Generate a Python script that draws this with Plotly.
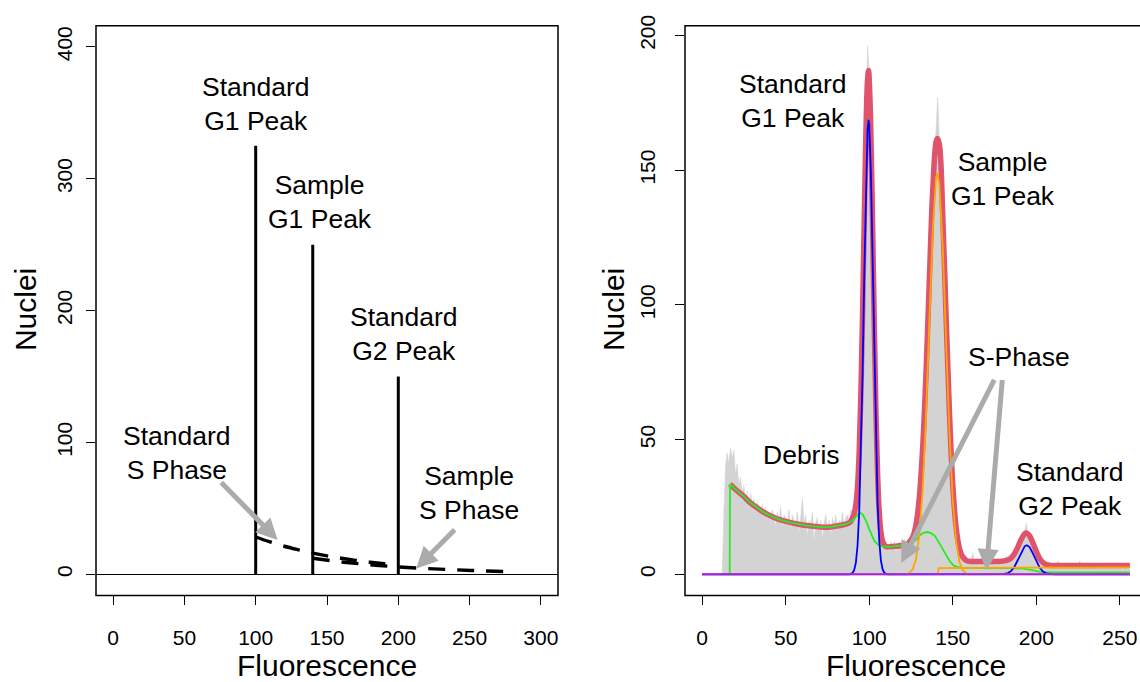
import plotly.graph_objects as go

FONT = "Liberation Sans, Arial, Helvetica, sans-serif"
W, H = 1140, 682

# ---------------- left panel (schematic) ----------------
left_xticks = [0, 50, 100, 150, 200, 250, 300]
left_yticks = [0, 100, 200, 300, 400]
peak_pos = [100, 140, 200]
peak_height = [325, 250, 150]
std_s_x = [100, 110, 120, 130, 140, 150, 160, 170, 180, 190, 200]
std_s_y = [28.3, 24.6, 21.3, 18.6, 16.1, 14.0, 12.2, 10.6, 9.2, 8.0, 7.0]
smp_s_x = [140, 160, 180, 200, 220, 240, 260, 280]
smp_s_y = [12.2, 9.4, 7.3, 5.6, 4.4, 3.4, 2.6, 1.9]
left_labels = ["Standard<br>G1 Peak", "Sample<br>G1 Peak", "Standard<br>G2 Peak",
               "Standard<br>S Phase", "Sample<br>S Phase"]
left_label_x = [100, 145, 204, 44.6, 249.5]
left_label_y = [357, 282, 182, 92, 62]
left_arrow_tail = [(74.8, 70.8), (240.6, 35.0)]
left_arrow_tip = [(115.4, 26.0), (212.6, 4.5)]

# ---------------- right panel (real histogram) ----------------
right_xticks = [0, 50, 100, 150, 200, 250]
right_yticks = [0, 50, 100, 150, 200]
hist_counts = (
    [0] * 13 +
    [22, 40, 45, 41, 47, 43, 46, 37, 41, 33, 36, 30, 33, 27, 31, 25, 30, 26, 28, 23,   # 13-32
     27, 24, 22, 26, 21, 25, 20, 23, 19, 24, 21, 18, 23, 20, 25, 17, 22, 21, 19, 24,    # 33-52
     16, 22, 20, 18, 23, 15, 21, 28, 19, 22, 14, 20, 18, 23, 12, 19, 21, 16, 20, 13,    # 53-72
     19, 22, 17, 20, 14, 21, 18, 22, 16, 20, 19, 23, 17, 21, 22, 19, 24, 23, 26, 30,    # 73-92
     36, 46, 66, 95, 131, 166, 196, 186, 166, 132, 95, 62, 38, 24, 17, 17, 13, 12, 11, 8,  # 93-112
     12, 10, 12, 8, 11, 12, 9, 11, 13, 10, 12, 13, 13, 15, 16, 19, 23, 29, 37, 47,      # 113-132
     60, 75, 92, 110, 127, 143, 156, 165, 177, 161, 150, 135, 116, 97, 79, 61, 46, 34, 24, 17,  # 133-152
     13, 9, 7, 6, 5, 7, 4, 6, 5, 8, 4, 6, 5, 3, 6, 5, 7, 4, 5, 6,                        # 153-172
     4, 7, 5, 3, 6, 5, 4, 6, 5, 7, 6, 7, 6, 8, 8, 10, 11, 13, 14, 15,                    # 173-192
     16, 19, 15, 14, 13, 11, 10, 9, 7, 6, 5, 4, 5, 3, 4, 3, 4, 2, 3, 4,                  # 193-212
     5, 3, 2, 3, 4, 3, 2, 3, 3, 4, 2, 3, 3, 5, 3, 2, 3, 3, 2, 3,                         # 213-232
     4, 2, 3, 3, 2, 3, 2, 3, 3, 2, 3, 2, 3, 2, 3, 2, 2, 3, 2, 2,                         # 233-252
     3, 2, 2, 2]                                                                         # 253-256
)
hist_channels = list(range(len(hist_counts)))

total_x = [16.7, 20, 24.7, 28, 32.7, 37, 42.7, 47, 52.6, 57, 62.6, 67, 72.6, 77, 82.5, 86, 88.5,
           90, 91, 92, 93, 94, 95, 96, 97, 98, 99, 99.6, 100, 101, 102, 103, 104, 105, 106, 107,
           108, 109, 110, 112.5, 116, 120, 123, 124, 126, 128, 130, 132, 134, 136, 138, 140,
           140.8, 142, 144, 146, 148, 150, 152, 154, 156, 158, 160, 170, 180, 183, 185, 187,
           189, 191, 193, 194.3, 196, 198, 200, 202, 204, 206, 209, 220, 256]
total_y = [33.5, 31.5, 29.1, 27.0, 24.8, 23.0, 21.2, 20.2, 19.3, 18.7, 18.1, 17.8, 17.5, 17.6, 18.1,
           18.6, 19.3, 20.9, 22.5, 25.8, 32.5, 45.4, 66.4, 96.1, 130.9, 163.3, 183.5, 187.0, 183.8,
           164.1, 130.7, 93.2, 60.8, 37.4, 23.2, 15.7, 12.3, 10.9, 10.3, 10.2, 10.4, 10.8, 11.2,
           12.0, 13.8, 18.4, 28.7, 46.9, 74.8, 109.6, 142.4, 160.5, 161.8, 159.6, 133.4, 96.1,
           60.4, 33.4, 17.4, 9.6, 6.4, 5.2, 4.8, 4.8, 4.9, 5.3, 6.1, 7.7, 10.2, 13.0, 15.0, 15.3,
           14.3, 11.6, 8.5, 5.9, 4.4, 3.6, 3.3, 3.3, 3.3]

debris_x = [16.5, 16.7, 20, 24.7, 28, 32.7, 37, 42.7, 47, 52.6, 57, 62.6, 67, 72.6, 77, 82.5, 86,
            88.5, 91, 93, 94.5, 96, 97.5, 98.5, 100, 101.5, 103, 105.5, 108, 112.5, 116, 120.4,
            123, 126.4, 128.5, 130.4, 132.5, 134.8, 137, 139.4, 142, 144.4, 146.5, 148.4, 150.5,
            152.4, 156, 162.3, 172.3, 182.3, 188, 192.3, 196, 199, 202.2, 206, 212.2, 232.2, 256]
debris_y = [0, 33.5, 31.5, 29.1, 27.0, 24.8, 23.0, 21.2, 20.2, 19.3, 18.7, 18.1, 17.8, 17.5, 17.6,
            18.1, 18.6, 19.3, 20.5, 22.0, 22.8, 22.3, 20.8, 19.3, 16.8, 14.5, 12.5, 10.9, 10.4,
            10.2, 10.4, 10.8, 11.2, 12.0, 13.0, 14.5, 15.4, 15.7, 15.3, 14.2, 11.5, 9.0, 6.6, 4.7,
            3.3, 2.8, 2.4, 2.3, 2.3, 2.3, 2.3, 2.1, 1.7, 1.2, 0.9, 0.8, 0.8, 0.75, 0.7]

std_x = [0, 88, 90, 91, 92, 93, 94, 95, 96, 97, 98, 99, 99.6, 100, 101, 102, 103, 104, 105, 106,
         107, 108, 109, 111, 178, 180, 183, 185, 187, 189, 191, 193, 194.3, 196, 198, 200, 202,
         204, 206, 209, 212, 256]
std_y = [0, 0, 0.5, 1.5, 4.3, 10.5, 22.8, 43.7, 73.8, 109.6, 143.3, 164.9, 168.7, 167.0, 148.9,
         116.9, 80.7, 49.1, 26.3, 12.4, 5.1, 1.9, 0.6, 0, 0, 0.07, 0.46, 1.27, 2.9, 5.4, 8.3,
         10.4, 10.8, 10.1, 7.7, 4.9, 2.5, 1.06, 0.37, 0.05, 0, 0]

smp_g1_x = [0, 122, 124, 126, 128, 130, 132, 134, 136, 138, 140, 140.8, 142, 144, 146, 148, 150,
            152, 154, 156, 158, 160, 256]
smp_g1_y = [0, 0, 0.5, 1.9, 5.6, 14.5, 31.6, 59.1, 94.0, 127.4, 147.1, 149.0, 144.8, 121.4, 86.7,
            52.9, 27.5, 12.1, 4.6, 1.5, 0.4, 0, 0]

smp_s_phase_x = [141, 141.6, 160, 200, 256]
smp_s_phase_y = [0, 2.3, 2.4, 2.5, 2.6]

aggr_x = [0, 256]
aggr_y = [0, 0]

right_labels = ["Standard<br>G1 Peak", "Sample<br>G1 Peak", "S-Phase", "Debris", "Standard<br>G2 Peak"]
right_label_x = [54.5, 180, 189.8, 59.5, 220]
right_label_y = [175.7, 146.8, 80.6, 44.4, 31.7]
right_arrow_tail = [(175.3, 72.7), (179.7, 72.7)]
right_arrow_tip = [(119.2, 4.2), (170.1, 1.5)]

# ---------------- colours ----------------
C_TOTAL = "#DF536B"
C_DEBRIS = "#22EE22"
C_STD = "#0000FF"
C_SMP = "#FFA500"
C_AGG = "#A020F0"
C_HIST = "#D3D3D3"
C_ARROW = "#ABABAB"

fig = go.Figure()

# left panel
for xp, hp in zip(peak_pos, peak_height):
    fig.add_trace(go.Scatter(x=[xp, xp], y=[0, hp], mode="lines",
                             line=dict(color="black", width=3), xaxis="x", yaxis="y",
                             showlegend=False, hoverinfo="skip"))
fig.add_trace(go.Scatter(x=std_s_x, y=std_s_y, mode="lines", line_shape="spline",
                         line=dict(color="black", width=3.4, dash="17px,12px"),
                         xaxis="x", yaxis="y", showlegend=False))
fig.add_trace(go.Scatter(x=smp_s_x, y=smp_s_y, mode="lines", line_shape="spline",
                         line=dict(color="black", width=3.4, dash="17px,12px"),
                         xaxis="x", yaxis="y", showlegend=False))

# right panel
fig.add_trace(go.Scatter(x=hist_channels, y=hist_counts, mode="lines", fill="tozeroy",
                         fillcolor=C_HIST, line=dict(color=C_HIST, width=0.6),
                         xaxis="x2", yaxis="y2", showlegend=False))
fig.add_trace(go.Scatter(x=total_x, y=total_y, mode="lines", line_shape="spline",
                         line=dict(color=C_TOTAL, width=5.5), xaxis="x2", yaxis="y2", showlegend=False))
fig.add_trace(go.Scatter(x=debris_x, y=debris_y, mode="lines",
                         line=dict(color=C_DEBRIS, width=1.8), xaxis="x2", yaxis="y2", showlegend=False))
fig.add_trace(go.Scatter(x=std_x, y=std_y, mode="lines",
                         line=dict(color=C_STD, width=1.8), xaxis="x2", yaxis="y2", showlegend=False))
fig.add_trace(go.Scatter(x=smp_g1_x, y=smp_g1_y, mode="lines",
                         line=dict(color=C_SMP, width=1.8), xaxis="x2", yaxis="y2", showlegend=False))
fig.add_trace(go.Scatter(x=smp_s_phase_x, y=smp_s_phase_y, mode="lines",
                         line=dict(color=C_SMP, width=1.8), xaxis="x2", yaxis="y2", showlegend=False))
fig.add_trace(go.Scatter(x=aggr_x, y=aggr_y, mode="lines",
                         line=dict(color=C_AGG, width=2), xaxis="x2", yaxis="y2", showlegend=False))

annotations = []
for t, x, y in zip(left_labels, left_label_x, left_label_y):
    annotations.append(dict(text=t, x=x, y=y, xref="x", yref="y", showarrow=False,
                            font=dict(size=26.5, color="black", family=FONT), align="center"))
for t, x, y in zip(right_labels, right_label_x, right_label_y):
    annotations.append(dict(text=t, x=x, y=y, xref="x2", yref="y2", showarrow=False,
                            font=dict(size=26.5, color="black", family=FONT), align="center"))
for (tx, ty), (hx, hy) in zip(left_arrow_tail, left_arrow_tip):
    annotations.append(dict(text="", x=hx, y=hy, ax=tx, ay=ty, xref="x", yref="y",
                            axref="x", ayref="y", showarrow=True, arrowhead=2, arrowsize=0.85,
                            arrowwidth=5, arrowcolor=C_ARROW))
for (tx, ty), (hx, hy) in zip(right_arrow_tail, right_arrow_tip):
    annotations.append(dict(text="", x=hx, y=hy, ax=tx, ay=ty, xref="x2", yref="y2",
                            axref="x2", ayref="y2", showarrow=True, arrowhead=2, arrowsize=0.85,
                            arrowwidth=5, arrowcolor=C_ARROW))
# axis titles
for xpx in [25, 613]:
    annotations.append(dict(text="Nuclei", x=xpx / W, y=1 - 304 / H, xref="paper", yref="paper",
                            showarrow=False, textangle=-90, xanchor="center", yanchor="middle",
                            font=dict(size=30, color="black", family=FONT)))
for xpx in [327, 916]:
    annotations.append(dict(text="Fluorescence", x=xpx / W, y=1 - 665 / H, xref="paper", yref="paper",
                            showarrow=False, xanchor="center", yanchor="middle",
                            font=dict(size=30, color="black", family=FONT)))

ydom = [1 - 594 / H, 1 - 15 / H]
tick_common = dict(ticks="outside", ticklen=9, tickwidth=1.4, tickcolor="black",
                   showgrid=False, showline=False,
                   tickfont=dict(size=21, color="black", family=FONT))

fig.update_layout(
    width=W, height=H, margin=dict(l=0, r=0, t=0, b=0),
    paper_bgcolor="white", plot_bgcolor="white",
    xaxis=dict(domain=[96 / W, 558 / W], range=[-12, 312], tickvals=left_xticks,
               zeroline=False, ticklabelstandoff=14, **tick_common),
    yaxis=dict(domain=ydom, range=[-16, 416], tickvals=left_yticks, tickangle=-90,
               zeroline=True, zerolinecolor="black", zerolinewidth=1.2,
               ticklabelstandoff=6, **tick_common),
    xaxis2=dict(domain=[685 / W, 1.0], range=[-10.24, 262.05], tickvals=right_xticks,
                zeroline=False, ticklabelstandoff=14, anchor="y2", **tick_common),
    yaxis2=dict(domain=ydom, range=[-7.83, 203.6], tickvals=right_yticks, tickangle=-90,
                zeroline=False, ticklabelstandoff=12, anchor="x2", **tick_common),
    annotations=annotations,
    shapes=[
        dict(type="rect", xref="paper", yref="paper", x0=96 / W, x1=558 / W, y0=ydom[0], y1=ydom[1],
             line=dict(color="black", width=1.5), fillcolor="rgba(0,0,0,0)", layer="above"),
        dict(type="rect", xref="paper", yref="paper", x0=685 / W, x1=1.05, y0=ydom[0], y1=ydom[1],
             line=dict(color="black", width=1.5), fillcolor="rgba(0,0,0,0)", layer="above"),
    ],
    font=dict(family=FONT, color="black"),
)

fig.write_html("out.html", config={"displayModeBar": False})
